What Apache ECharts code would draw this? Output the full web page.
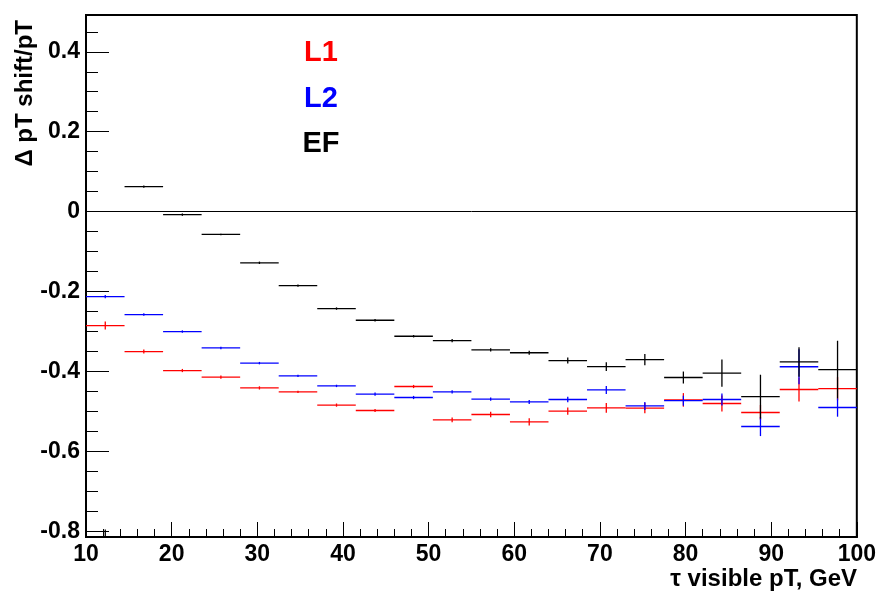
<!DOCTYPE html>
<html><head><meta charset="utf-8">
<script src="https://cdn.jsdelivr.net/npm/echarts@6/dist/echarts.min.js"></script>
<style>html,body{margin:0;padding:0;background:#fff}#c{width:879px;height:592px}</style>
</head><body><div id="c"></div>
<script>
// ---- data ----
const BIN_WIDTH = 4.5;
const binCenters = [12.25, 16.75, 21.25, 25.75, 30.25, 34.75, 39.25, 43.75, 48.25, 52.75,
                    57.25, 61.75, 66.25, 70.75, 75.25, 79.75, 84.25, 88.75, 93.25, 97.75];
const l1Values = [-0.285, -0.350, -0.3975, -0.414, -0.441, -0.451, -0.484, -0.4975, -0.4375, -0.521,
                  -0.5075, -0.526, -0.499, -0.491, -0.4917, -0.471, -0.480, -0.5025, -0.445, -0.443];
const l1Errors = [0.010, 0.005, 0.004, 0.004, 0.004, 0.003, 0.004, 0.004, 0.004, 0.006,
                  0.007, 0.009, 0.009, 0.012, 0.013, 0.017, 0.020, 0.019, 0.030, 0.029];
const l2Values = [-0.2125, -0.2575, -0.300, -0.341, -0.379, -0.411, -0.436, -0.4567, -0.465, -0.451,
                  -0.469, -0.476, -0.470, -0.446, -0.486, -0.473, -0.470, -0.5375, -0.388, -0.490];
const l2Errors = [0.004, 0.003, 0.003, 0.003, 0.003, 0.003, 0.003, 0.004, 0.004, 0.004,
                  0.004, 0.005, 0.007, 0.010, 0.010, 0.0125, 0.015, 0.024, 0.044, 0.023];
const efValues = [-0.83, 0.0625, -0.0075, -0.057, -0.128, -0.185, -0.2425, -0.2717, -0.3117, -0.3225,
                  -0.346, -0.353, -0.3725, -0.3875, -0.370, -0.415, -0.404, -0.463, -0.376, -0.395];
const efErrors = [0.035, 0.003, 0.003, 0.002, 0.003, 0.003, 0.003, 0.003, 0.003, 0.004,
                  0.004, 0.005, 0.0075, 0.011, 0.014, 0.015, 0.034, 0.055, 0.037, 0.072];
const xTicks = {min: 10, max: 100, interval: 10};
const yRange = {min: -0.814, max: 0.492, step: 0.2};
const legendItems = ['L1', 'L2', 'EF'];

// ---- drawing ----
const FONT = '"Liberation Sans", Arial, Helvetica, sans-serif';
function makeRenderer(color) {
  return function (params, api) {
    const x = api.value(0), y = api.value(1), e = api.value(2);
    const cs = params.coordSys;
    const top = cs.y, bottom = cs.y + cs.height, left = cs.x, right = cs.x + cs.width;
    const c = api.coord([x, y]);
    const a = api.coord([x - BIN_WIDTH / 2, y]);
    const b = api.coord([x + BIN_WIDTH / 2, y]);
    const pt = api.coord([x, y + e]);
    const pb = api.coord([x, y - e]);
    const children = [];
    const st = {stroke: color, lineWidth: 1.3};
    if (c[1] >= top && c[1] <= bottom) {
      children.push({type: 'line', shape: {x1: Math.max(a[0], left), y1: c[1], x2: Math.min(b[0], right), y2: c[1]}, style: st});
    }
    const y1 = Math.max(pt[1], top), y2 = Math.min(pb[1], bottom);
    if (y2 > y1) {
      children.push({type: 'line', shape: {x1: c[0], y1: y1, x2: c[0], y2: y2}, style: st});
    }
    return {type: 'group', children: children};
  };
}
function seriesData(vals, errs) { return binCenters.map((x, i) => [x, vals[i], errs[i]]); }

const chart = echarts.init(document.getElementById('c'), null, {renderer: 'canvas'});
const legendColors = ['#ff0000', '#0000ff', '#000000'];
chart.setOption({
  animation: false,
  backgroundColor: '#fff',
  grid: {left: 86, right: 21, top: 15, bottom: 55, show: true, borderColor: '#000', borderWidth: 2, backgroundColor: 'transparent'},
  xAxis: {
    type: 'value', min: xTicks.min, max: xTicks.max, interval: xTicks.interval,
    axisLine: {show: true, onZero: false, lineStyle: {color: '#000', width: 2}},
    axisTick: {show: true, inside: true, length: 15, lineStyle: {color: '#000', width: 1}},
    minorTick: {show: true, splitNumber: 5, length: 8, lineStyle: {color: '#000', width: 1}},
    splitLine: {show: false},
    axisLabel: {color: '#000', fontFamily: FONT, fontWeight: 'bold', fontSize: 23, margin: 6}
  },
  yAxis: {
    type: 'value', min: yRange.min, max: yRange.max, minInterval: yRange.step, maxInterval: yRange.step,
    axisLine: {show: true, onZero: false, lineStyle: {color: '#000', width: 2}},
    axisTick: {show: true, inside: true, length: 23, lineStyle: {color: '#000', width: 1}},
    minorTick: {show: true, splitNumber: 4, length: 12, lineStyle: {color: '#000', width: 1}},
    splitLine: {show: false},
    axisLabel: {
      color: '#000', fontFamily: FONT, fontWeight: 'bold', fontSize: 23, margin: 6,
      formatter: function (v) {
        const k = Math.round(v / yRange.step);
        if (Math.abs(v - k * yRange.step) > 1e-6) return '';
        const r = Math.round(k * yRange.step * 10) / 10;
        return r === 0 ? '0' : String(r);
      }
    }
  },
  graphic: [
    {type: 'text', x: 857, y: 579, style: {text: 'τ visible pT, GeV', font: 'bold 24px ' + FONT, fill: '#000', textAlign: 'right', textVerticalAlign: 'middle'}},
    {type: 'text', x: 25, y: 20, rotation: Math.PI / 2, style: {text: 'Δ pT shift/pT', font: 'bold 24px ' + FONT, fill: '#000', textAlign: 'right', textVerticalAlign: 'middle'}},
    {type: 'text', x: 321, y: 53, style: {text: legendItems[0], font: 'bold 29px ' + FONT, fill: legendColors[0], textAlign: 'center', textVerticalAlign: 'middle'}},
    {type: 'text', x: 321, y: 99, style: {text: legendItems[1], font: 'bold 29px ' + FONT, fill: legendColors[1], textAlign: 'center', textVerticalAlign: 'middle'}},
    {type: 'text', x: 321, y: 144, style: {text: legendItems[2], font: 'bold 29px ' + FONT, fill: legendColors[2], textAlign: 'center', textVerticalAlign: 'middle'}}
  ],
  series: [
    {name: 'L1', type: 'custom', renderItem: makeRenderer(legendColors[0]), data: seriesData(l1Values, l1Errors), encode: {x: 0, y: 1}, z: 2},
    {name: 'L2', type: 'custom', renderItem: makeRenderer(legendColors[1]), data: seriesData(l2Values, l2Errors), encode: {x: 0, y: 1}, z: 3},
    {name: 'EF', type: 'custom', renderItem: makeRenderer(legendColors[2]), data: seriesData(efValues, efErrors), encode: {x: 0, y: 1}, z: 4,
     markLine: {silent: true, symbol: 'none', label: {show: false}, lineStyle: {color: '#000', width: 1, type: 'solid'}, data: [{yAxis: 0}]}}
  ]
});
</script>
</body></html>
